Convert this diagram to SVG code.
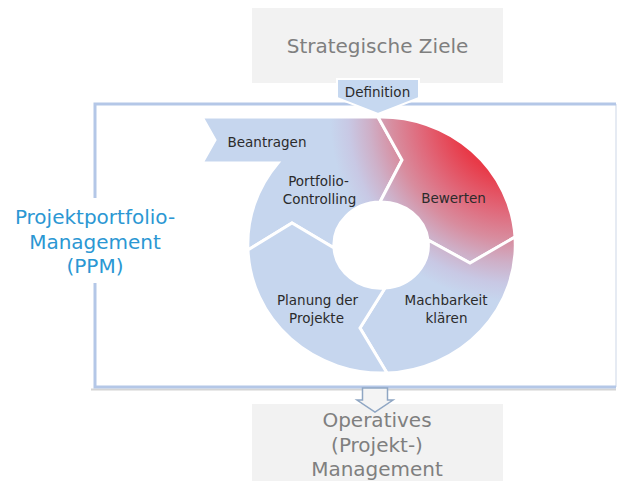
<svg xmlns="http://www.w3.org/2000/svg" width="624" height="481" viewBox="0 0 624 481">
  <style>
    .lbl { font-family: "DejaVu Sans", Verdana, sans-serif; font-size: 13.5px; fill: #2b2b2b; text-anchor: middle; }
    .big { font-family: "DejaVu Sans", Verdana, sans-serif; font-size: 20px; fill: #7f7f7f; text-anchor: middle; }
    .ppm { font-family: "DejaVu Sans", Verdana, sans-serif; font-size: 20px; fill: #2b97d3; text-anchor: middle; }
    .box { fill: #f2f2f2; }
    .seg { fill: url(#redglow); stroke: #ffffff; stroke-width: 3; stroke-linejoin: miter; }
    .frame { stroke: #b4c7e7; stroke-width: 3; fill: none; }
  </style>
  <defs>
    <radialGradient id="redglow" gradientUnits="userSpaceOnUse" cx="515" cy="117" r="185">
      <stop offset="0" stop-color="#e8303c"/>
      <stop offset="0.32" stop-color="#e83a48"/>
      <stop offset="0.52" stop-color="#e06a7c"/>
      <stop offset="0.66" stop-color="#d88c9e"/>
      <stop offset="0.79" stop-color="#ceb0c8"/>
      <stop offset="0.9" stop-color="#c8c8e4"/>
      <stop offset="1" stop-color="#c6d6ee"/>
    </radialGradient>
  </defs>

  <!-- PPM frame -->
  <g id="ppm-frame">
    <line x1="91" y1="389.5" x2="616" y2="389.5" stroke="#d4d4d4" stroke-width="2"/>
    <line x1="616" y1="104" x2="616" y2="387" stroke="#e6ebf3" stroke-width="2"/>
    <path class="frame" d="M95 198 V104 H616"/>
    <path class="frame" d="M95 283 V387 H616"/>
    <text class="ppm" x="95" y="224">Projektportfolio-</text>
    <text class="ppm" x="95" y="248.5">Management</text>
    <text class="ppm" x="95" y="273">(PPM)</text>
  </g>

  <!-- Strategische Ziele -->
  <g id="strategische-ziele">
    <rect class="box" x="252" y="8" width="251" height="75"/>
    <text class="big" x="377.5" y="53">Strategische Ziele</text>
  </g>

  <!-- Operatives Management -->
  <g id="operatives-management">
    <rect class="box" x="252" y="404" width="251" height="77"/>
    <text class="big" x="377" y="427">Operatives</text>
    <text class="big" x="377" y="451.5">(Projekt-)</text>
    <text class="big" x="377" y="476">Management</text>
  </g>

  <!-- Cycle segments -->
  <g id="portfolio-controlling">
    <path class="seg" d="M248 250 A134 128 0 0 1 278 163 L202 163 L215 140 L202 117 L378 117 L402 160 L380 202 A47 43 0 0 0 334 248 L292 223 Z"/>
    <text class="lbl" x="267" y="147">Beantragen</text>
    <text class="lbl" x="318.5" y="186">Portfolio-</text>
    <text class="lbl" x="319.5" y="203.5">Controlling</text>
  </g>
  <g id="bewerten">
    <path class="seg" d="M378 117 A134 128 0 0 1 515 237 L470 263 L428 240 A47 43 0 0 0 380 202 L402 160 Z"/>
    <text class="lbl" x="453.5" y="203">Bewerten</text>
  </g>
  <g id="machbarkeit">
    <path class="seg" d="M515 237 A134 128 0 0 1 387 373 L360 328 L385 288 A47 43 0 0 0 428 240 L470 263 Z"/>
    <text class="lbl" x="446" y="305">Machbarkeit</text>
    <text class="lbl" x="446.5" y="323">klären</text>
  </g>
  <g id="planung">
    <path class="seg" d="M387 373 A134 128 0 0 1 248 250 L292 223 L334 248 A47 43 0 0 0 385 288 L360 328 Z"/>
    <text class="lbl" x="317.5" y="305">Planung der</text>
    <text class="lbl" x="316.5" y="323">Projekte</text>
  </g>

  <!-- Connectors -->
  <g id="connectors">
    <g id="definition">
      <path d="M337 79 H419 V98 L378 114 L337 98 Z" fill="#c6d8f0" stroke="#ffffff" stroke-width="2"/>
      <text class="lbl" x="377.5" y="97">Definition</text>
    </g>
    <path id="down-arrow" d="M362.5 388 H387.5 V400 H393 L375 412 L357 400 H362.5 Z" fill="#f4f4f4" stroke="#8fa6c3" stroke-width="1.5" stroke-linejoin="miter"/>
  </g>
</svg>
